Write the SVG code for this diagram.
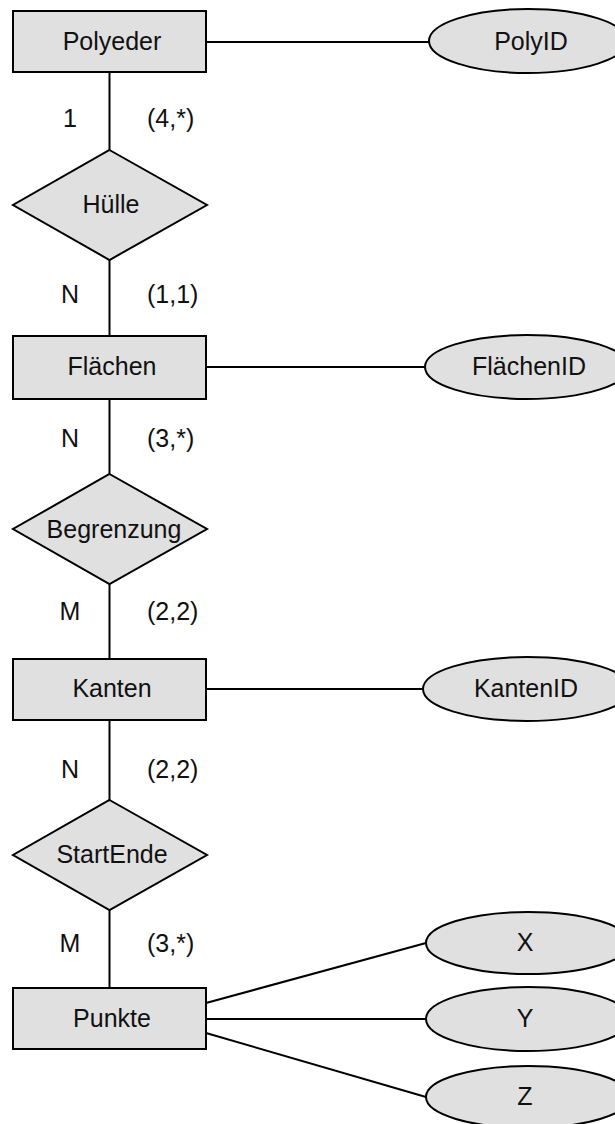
<svg xmlns="http://www.w3.org/2000/svg" width="615" height="1124" viewBox="0 0 615 1124">
<style>
.shape{fill:#e0e0e0;stroke:#000;stroke-width:2}
.ln{stroke:#000;stroke-width:2;fill:none}
text{font-family:"Liberation Sans",Arial,sans-serif;font-size:25px;fill:#111}
.c{text-anchor:middle}
</style>
<rect width="615" height="1124" fill="#fff"/>
<g id="connectors">
<line class="ln" x1="109.5" y1="72" x2="109.5" y2="150"/>
<line class="ln" x1="109.5" y1="260" x2="109.5" y2="336"/>
<line class="ln" x1="109.5" y1="399" x2="109.5" y2="474"/>
<line class="ln" x1="109.5" y1="584" x2="109.5" y2="659"/>
<line class="ln" x1="109.5" y1="720" x2="109.5" y2="800"/>
<line class="ln" x1="109.5" y1="910" x2="109.5" y2="988"/>
<line class="ln" x1="206" y1="42" x2="429" y2="42"/>
<line class="ln" x1="206" y1="367" x2="425" y2="367"/>
<line class="ln" x1="206" y1="689" x2="423" y2="689"/>
<line class="ln" x1="206" y1="1003" x2="426" y2="943"/>
<line class="ln" x1="206" y1="1019" x2="426" y2="1019"/>
<line class="ln" x1="206" y1="1033" x2="426" y2="1097"/>
<text class="c" x="70" y="127">1</text>
<text x="147" y="127">(4,*)</text>
<text class="c" x="70" y="303">N</text>
<text x="147" y="303">(1,1)</text>
<text class="c" x="70" y="447">N</text>
<text x="147" y="447">(3,*)</text>
<text class="c" x="70" y="620">M</text>
<text x="147" y="620">(2,2)</text>
<text class="c" x="70" y="778">N</text>
<text x="147" y="778">(2,2)</text>
<text class="c" x="70" y="952">M</text>
<text x="147" y="952">(3,*)</text>
</g>
<g id="Polyeder"><rect class="shape" x="13" y="11" width="193" height="61"/><text class="c" x="112" y="50">Polyeder</text></g>
<g id="PolyID"><ellipse class="shape" cx="528" cy="41" rx="99" ry="32"/><text class="c" x="531" y="50">PolyID</text></g>
<g id="Huelle"><polygon class="shape" points="109.5,150 207,205 109.5,260 13,205"/><text class="c" x="111" y="213">Hülle</text></g>
<g id="Flaechen"><rect class="shape" x="13" y="336" width="193" height="63"/><text class="c" x="112" y="375">Flächen</text></g>
<g id="FlaechenID"><ellipse class="shape" cx="527" cy="367" rx="102" ry="32"/><text class="c" x="529" y="375">FlächenID</text></g>
<g id="Begrenzung"><polygon class="shape" points="109.5,474 207,529 109.5,584 13,529"/><text class="c" x="114" y="538">Begrenzung</text></g>
<g id="Kanten"><rect class="shape" x="13" y="659" width="193" height="61"/><text class="c" x="112" y="697">Kanten</text></g>
<g id="KantenID"><ellipse class="shape" cx="527" cy="689" rx="104" ry="32"/><text class="c" x="526" y="697">KantenID</text></g>
<g id="StartEnde"><polygon class="shape" points="109.5,800 207,855 109.5,910 13,855"/><text class="c" x="112" y="863">StartEnde</text></g>
<g id="Punkte"><rect class="shape" x="13" y="988" width="193" height="61"/><text class="c" x="112" y="1027">Punkte</text></g>
<g id="X"><ellipse class="shape" cx="528" cy="943" rx="102" ry="31"/><text class="c" x="525" y="951">X</text></g>
<g id="Y"><ellipse class="shape" cx="528" cy="1019" rx="102" ry="32"/><text class="c" x="525" y="1027">Y</text></g>
<g id="Z"><ellipse class="shape" cx="528" cy="1097" rx="102" ry="31"/><text class="c" x="525" y="1105">Z</text></g>
</svg>
